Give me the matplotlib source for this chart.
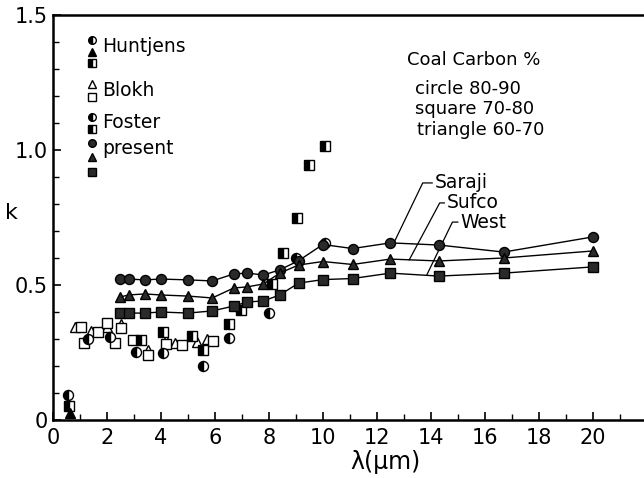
import matplotlib
matplotlib.use("Agg")
import matplotlib.pyplot as plt
from matplotlib.ticker import MultipleLocator, FixedLocator, FixedFormatter

# Present measurements (three coals), wavelength in micrometres
present_wl = [2.5, 2.8, 3.4, 4.0, 5.0, 5.9, 6.7, 7.2, 7.8, 8.4, 9.1, 10.0, 11.1, 12.5, 14.3, 16.7, 20.0]
saraji_k = [0.522, 0.522, 0.519, 0.522, 0.519, 0.515, 0.541, 0.544, 0.537, 0.556, 0.59, 0.65, 0.635, 0.656, 0.648, 0.622, 0.678]
sufco_k = [0.456, 0.463, 0.467, 0.463, 0.459, 0.452, 0.489, 0.493, 0.504, 0.544, 0.574, 0.587, 0.576, 0.596, 0.589, 0.60, 0.626]
west_k = [0.396, 0.396, 0.396, 0.40, 0.396, 0.404, 0.422, 0.437, 0.441, 0.463, 0.507, 0.52, 0.524, 0.544, 0.533, 0.544, 0.567]

# Huntjens
hunt_circle_wl, hunt_circle_k = [0.56], [0.093]
hunt_square_wl, hunt_square_k = [0.59], [0.052]
hunt_tri_wl, hunt_tri_k = [0.63], [0.026]

# Blokh
blokh_tri_wl = [0.81, 1.4, 2.0, 2.52, 3.52, 4.2, 4.52, 5.33, 5.7]
blokh_tri_k = [0.344, 0.33, 0.345, 0.356, 0.26, 0.295, 0.285, 0.289, 0.30]
blokh_sq_wl = [1.04, 1.67, 2.0, 2.52, 2.96, 3.52, 4.2, 4.78, 5.93, 1.15, 2.3]
blokh_sq_k = [0.344, 0.326, 0.36, 0.34, 0.296, 0.24, 0.28, 0.278, 0.293, 0.285, 0.285]

# Foster
foster_circle_wl = [1.3, 2.1, 3.07, 4.07, 5.56, 6.52, 8.0, 9.0, 10.07]
foster_circle_k = [0.30, 0.307, 0.252, 0.248, 0.20, 0.304, 0.396, 0.60, 0.656]
foster_sq_wl = [3.26, 4.07, 5.15, 5.56, 6.52, 6.96, 8.1, 8.52, 9.04, 9.48, 10.07]
foster_sq_k = [0.296, 0.326, 0.311, 0.259, 0.356, 0.407, 0.504, 0.619, 0.748, 0.944, 1.015]

plt.rcParams['font.family'] = ['DejaVu Sans']

fig = plt.figure(figsize=(6.44, 4.78), dpi=100)
ax = fig.add_axes([53 / 644, 58 / 478, 591 / 644, 405 / 478])
ax.set_xlim(0, 21.9)
ax.set_ylim(0, 1.5)

ms = 7.2
full = dict(color='black', markerfacecolor='#2a2a2a', markeredgecolor='black', markersize=ms)
half = dict(linestyle='none', color='black', markerfacecolor='black', markerfacecoloralt='white',
            markeredgecolor='black', fillstyle='left', markersize=ms, markeredgewidth=1.0)
opened = dict(linestyle='none', markerfacecolor='white', markeredgecolor='black', markersize=ms + 0.5,
              markeredgewidth=1.0)

# scattered literature data
ax.plot(blokh_tri_wl, blokh_tri_k, marker='^', **opened, zorder=3)
ax.plot(blokh_sq_wl, blokh_sq_k, marker='s', **opened, zorder=3)
ax.plot(foster_circle_wl, foster_circle_k, marker='o', **half, zorder=3)
ax.plot(foster_sq_wl, foster_sq_k, marker='s', **half, zorder=3)
ax.plot(hunt_circle_wl, hunt_circle_k, marker='o', **half, zorder=3)
ax.plot(hunt_square_wl, hunt_square_k, marker='s', **half, zorder=3)
ax.plot(hunt_tri_wl, hunt_tri_k, marker='^', linestyle='none', color='black', markersize=ms, zorder=3)

# present data with connecting lines
ax.plot(present_wl, saraji_k, marker='o', lw=1.0, **full, zorder=4)
ax.plot(present_wl, sufco_k, marker='^', lw=1.0, **full, zorder=4)
ax.plot(present_wl, west_k, marker='s', lw=1.0, **full, zorder=4)

# leader lines to the series names
def leader(x0, y0, x1, y1, xt, label):
    ax.plot([x1, x0, xt - 0.1], [y1, y0, y0], color='black', lw=0.9, zorder=2)
    ax.text(xt, y0, label, fontsize=13.5, va='center', ha='left')

leader(13.7, 0.878, 12.67, 0.664, 14.15, 'Saraji')
leader(14.33, 0.804, 13.2, 0.593, 14.6, 'Sufco')
leader(14.8, 0.733, 13.85, 0.537, 15.1, 'West')

# key in the upper left corner
kx = (92 - 53) / 27
def ky(py):
    return (420 - py) / 270
key_rows = [
    ([('o', 'half'), ('^', 'full'), ('s', 'half')], [40, 52, 63], 'Huntjens', 47),
    ([('^', 'open'), ('s', 'open')], [84, 97], 'Blokh', 91),
    ([('o', 'half'), ('s', 'half')], [117, 129], 'Foster', 122),
    ([('o', 'pres'), ('^', 'pres'), ('s', 'pres')], [143, 157, 172], 'present', 148),
]
for marks, ys, label, ty in key_rows:
    for (m, kind), py in zip(marks, ys):
        if kind == 'half':
            ax.plot([kx], [ky(py)], marker=m, **{**half, 'markersize': 5.5}, clip_on=False)
        elif kind == 'open':
            ax.plot([kx], [ky(py)], marker=m, **{**opened, 'markersize': 6}, clip_on=False)
        elif kind == 'full':
            ax.plot([kx], [ky(py)], marker=m, linestyle='none', color='black', markersize=5.5)
        else:
            ax.plot([kx], [ky(py)], marker=m, linestyle='none', **{**full, 'markersize': 5.5})
    ax.text(kx + 0.38, ky(ty), label, fontsize=13.5, va='center', ha='left')

# carbon-content note
ax.text((407 - 53) / 27, ky(60), 'Coal Carbon %', fontsize=13, va='center', ha='left')
ax.text((415 - 53) / 27, ky(89), 'circle 80-90', fontsize=13, va='center', ha='left')
ax.text((415 - 53) / 27, ky(109), 'square 70-80', fontsize=13, va='center', ha='left')
ax.text((417 - 53) / 27, ky(130), 'triangle 60-70', fontsize=13, va='center', ha='left')

# axes styling
for side in ['left', 'bottom', 'top']:
    ax.spines[side].set_linewidth(1.8)
ax.spines['right'].set_visible(False)
ax.xaxis.set_major_locator(MultipleLocator(2))
ax.xaxis.set_minor_locator(MultipleLocator(1))
ax.yaxis.set_major_locator(FixedLocator([0, 0.5, 1.0, 1.5]))
ax.yaxis.set_major_formatter(FixedFormatter(['0', '0.5', '1.0', '1.5']))
ax.yaxis.set_minor_locator(MultipleLocator(0.1))
ax.tick_params(which='both', direction='in', top=False, right=False)
ax.tick_params(which='major', length=6, width=1.2, labelsize=15)
ax.tick_params(which='minor', length=4, width=1.0)
ax.tick_params(axis='x', pad=6)

ax.set_xlabel('λ(μm)', fontsize=17, labelpad=0)
ax.xaxis.set_label_coords((385 - 53) / 591, -0.075)
ax.set_ylabel('k', fontsize=16, rotation=0, va='center')
ax.yaxis.set_label_coords(-0.07, 0.51)

fig.savefig('out.png', dpi=100)
